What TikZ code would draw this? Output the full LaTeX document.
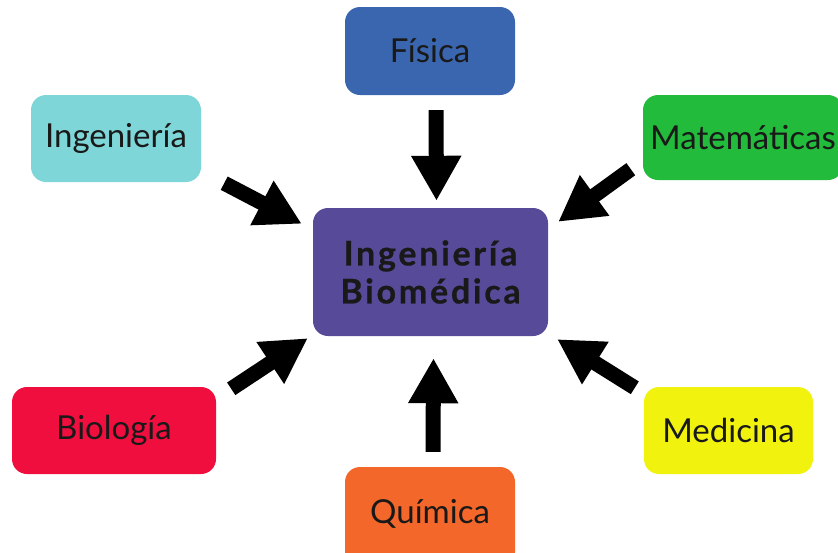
\documentclass[tikz,border=0pt]{standalone}
\usepackage{fontspec}
\setmainfont{Lato}
\newfontfamily\widebold[LetterSpace=8,FakeBold=0.6]{Lato}
\usepackage{xcolor}
\usetikzlibrary{arrows.meta}

\definecolor{fisblue}{RGB}{58,102,175}
\definecolor{ingcyan}{RGB}{127,214,216}
\definecolor{matgreen}{RGB}{34,187,59}
\definecolor{bmepurple}{RGB}{87,74,152}
\definecolor{biored}{RGB}{240,14,62}
\definecolor{medyellow}{RGB}{242,242,15}
\definecolor{quiorange}{RGB}{244,103,42}

\begin{document}
\begin{tikzpicture}[x=1pt,y=-1pt,
	area/.style={rounded corners=15pt, inner sep=0pt, text=black!90,
		font=\fontsize{33}{36}\selectfont},
	bigarrow/.style={line width=15pt, -{Triangle[width=47pt,length=45pt]}}]
	\useasboundingbox (0,0) rectangle (838,552);
	% centre
	\node [area, fill=bmepurple, minimum width=235pt, minimum height=128pt, align=center,
		font=\fontsize{34}{38}\selectfont\widebold\bfseries] (bme) at (430.5,272) {Ingeniería\\Biomédica};
	% areas round it
	\node [area, fill=fisblue, minimum width=170pt, minimum height=88pt] (fis) at (430,51) {Física};
	\node [area, fill=ingcyan, minimum width=170pt, minimum height=87pt] (ing) at (116,138.5) {Ingeniería};
	\node [area, fill=matgreen, minimum width=200pt, minimum height=85pt] (mat) at (743,137.5) {Matemáticas};
	\node [area, fill=biored, minimum width=204pt, minimum height=87pt] (bio) at (114,430.5) {Biología};
	\node [area, fill=medyellow, minimum width=169pt, minimum height=87pt] (med) at (728.5,430.5) {Medicina};
	\node [area, fill=quiorange, minimum width=170pt, minimum height=100pt, text depth=0pt] (qui) at (430,517) {\raisebox{12pt}{Química}};
	% arrows
	\draw [bigarrow] ([shift={(6,15)}]fis.south) -- ([shift={(6,-7)}]bme.north);
	\draw [bigarrow] ([shift={(23,1)}]ing.south east) -- ([shift={(-11,16)}]bme.north west);
	\draw [bigarrow] ([shift={(-12,-11)}]mat.south west) -- ([shift={(10,14)}]bme.north east);
	\draw [bigarrow] ([shift={(15,2)}]bio.north east) -- ([shift={(-5,2)}]bme.south west);
	\draw [bigarrow] ([shift={(-9,1)}]med.north west) -- ([shift={(9,3)}]bme.south east);
	\draw [bigarrow] ([shift={(3,-15)}]qui.north) -- ([shift={(3,22)}]bme.south);
\end{tikzpicture}
\end{document}
